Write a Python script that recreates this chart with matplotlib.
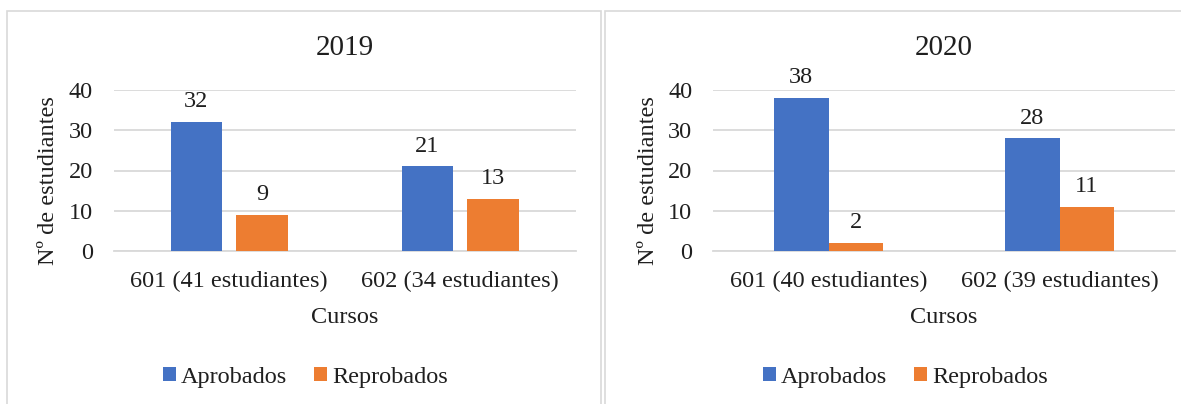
import numpy as np
import matplotlib.pyplot as plt
from matplotlib.patches import Rectangle

plt.rcParams['font.family'] = ['Liberation Serif', 'DejaVu Serif']

# datos por año
cursos_2019 = ['601 (41 estudiantes)', '602 (34 estudiantes)']
aprobados_2019 = [32, 21]
reprobados_2019 = [9, 13]

cursos_2020 = ['601 (40 estudiantes)', '602 (39 estudiantes)']
aprobados_2020 = [38, 28]
reprobados_2020 = [2, 11]

series = ['Aprobados', 'Reprobados']
azul = '#4472C4'
naranja = '#ED7D31'
gris = '#D9D9D9'
texto = '#1f1f1f'
fs = 17.5

W, H = 1181, 404
fig = plt.figure(figsize=(W / 100, H / 100), dpi=100)

# marcos de cada grafico
for x0, x1 in [(7, 601), (605, 1300)]:
    fig.patches.append(Rectangle((x0 / W, -0.05), (x1 - x0) / W, 1 - 11 / H + 0.05,
                                 transform=fig.transFigure, fill=False,
                                 edgecolor=gris, linewidth=1.2))


def panel(left, right, anio, cursos, aprob, reprob, ancho, desp, leg_x):
    ax = fig.add_axes([left / W, 1 - 251 / H, (right - left) / W, (251 - 90) / H])
    x = np.arange(len(cursos))
    b1 = ax.bar(x - desp, aprob, ancho, color=azul, label=series[0], zorder=3)
    b2 = ax.bar(x + desp, reprob, ancho, color=naranja, label=series[1], zorder=3)
    ax.bar_label(b1, padding=7, fontsize=fs, color=texto)
    ax.bar_label(b2, padding=7, fontsize=fs, color=texto)
    ax.set_xlim(-0.5, 1.5)
    ax.set_ylim(0, 40)
    ax.set_yticks([0, 10, 20, 30, 40])
    ax.set_xticks(x)
    ax.set_xticklabels(cursos)
    ax.grid(axis='y', color=gris, linewidth=1.3, zorder=0)
    for s in ['top', 'right', 'left']:
        ax.spines[s].set_visible(False)
    ax.spines['bottom'].set_color(gris)
    ax.spines['bottom'].set_linewidth(1.3)
    ax.tick_params(axis='both', length=0, labelsize=fs, colors=texto)
    ax.tick_params(axis='y', pad=15)
    ax.tick_params(axis='x', pad=14)
    ax.set_title(anio, fontsize=21, pad=25, color=texto)
    ax.set_xlabel('Cursos', fontsize=fs, labelpad=11, color=texto)
    ax.set_ylabel('Nº de estudiantes', fontsize=fs, color=texto)
    ax.yaxis.set_label_coords(-0.140, 0.44)
    ax.yaxis.label.set_va('center')
    ax.legend(loc='center', bbox_to_anchor=(leg_x / W, 1 - 377 / H),
              bbox_transform=fig.transFigure, ncol=2, frameon=False, fontsize=fs,
              handlelength=0.55, handleheight=0.55, handletextpad=0.2,
              columnspacing=1.1, borderaxespad=0, labelcolor=texto)
    return ax


panel(113.7, 575.9, '2019', cursos_2019, aprobados_2019, reprobados_2019, 0.2233, 0.142, 305.5)
panel(713, 1175, '2020', cursos_2020, aprobados_2020, reprobados_2020, 0.236, 0.118, 905.5)

fig.savefig('out.png', dpi=100)
